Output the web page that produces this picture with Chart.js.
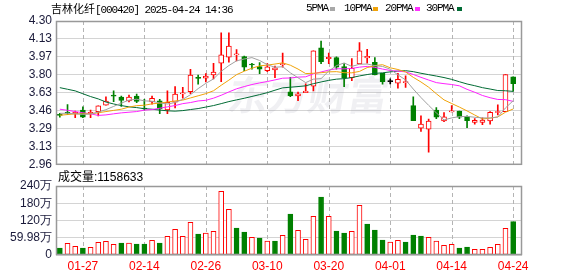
<!DOCTYPE html>
<html>
<head>
<meta charset="utf-8">
<script src="https://cdn.jsdelivr.net/npm/chart.js@4.4.0/dist/chart.umd.min.js"></script>
<style>
html, body { margin:0; padding:0; background:#fff; }
#wrap { position:relative; width:578px; height:276px; overflow:hidden; }
canvas { position:absolute; left:0; }
.t { position:absolute; white-space:nowrap; color:#000; font-size:11px; line-height:12px; }
.mono { font-family:"Liberation Mono", monospace; letter-spacing:-1.1px; }
.cjk { font-family:"Noto Sans CJK SC", sans-serif; }
.sq { position:absolute; width:5px; height:4px; }
</style>
</head>
<body>
<div id="wrap">
  <canvas id="kline" width="578" height="176" style="top:0"></canvas>
  <canvas id="vol" width="578" height="104" style="top:172px"></canvas>
  <div class="t" style="left:51px;top:2px"><span class="cjk">吉林化纤</span><span class="mono">[000420] 2025-04-24 14:36</span></div>
  <div class="t mono" style="left:306px;top:2px">5PMA</div><div class="sq" style="left:330px;top:7px;background:#a8a8a8"></div>
  <div class="t mono" style="left:344px;top:2px">10PMA</div><div class="sq" style="left:373px;top:7px;background:#f0a30a"></div>
  <div class="t mono" style="left:385px;top:2px">20PMA</div><div class="sq" style="left:415px;top:7px;background:#ff33ff"></div>
  <div class="t mono" style="left:426px;top:2px">30PMA</div><div class="sq" style="left:457px;top:7px;background:#006b34"></div>
  <div class="t" style="left:58px;top:171px;font-size:12px;font-family:'Liberation Sans','Noto Sans CJK SC',sans-serif">成交量:1158633</div>
</div>
<script>
// trading days shown, 2025-01-22 .. 2025-04-24
const dates = ["01-22","01-23","01-24","01-27","02-05","02-06","02-07","02-10","02-11","02-12",
  "02-13","02-14","02-17","02-18","02-19","02-20","02-21","02-24","02-25","02-26",
  "02-27","02-28","03-03","03-04","03-05","03-06","03-07","03-10","03-11","03-12",
  "03-13","03-14","03-17","03-18","03-19","03-20","03-21","03-24","03-25","03-26",
  "03-27","03-28","03-31","04-01","04-02","04-03","04-07","04-08","04-09","04-10",
  "04-11","04-14","04-15","04-16","04-17","04-18","04-21","04-22","04-23","04-24"];

const opens = [3.43,3.445,3.435,3.47,3.435,3.456,3.515,3.605,3.59,3.555,3.60,3.485,3.545,3.555,3.472,3.543,3.62,3.642,3.77,3.767,
  3.797,3.906,3.962,3.984,3.968,3.893,3.875,3.838,3.844,3.893,3.64,3.602,3.633,3.692,4.049,3.949,3.959,3.875,3.772,3.90,
  3.956,3.916,3.813,3.735,3.72,3.726,3.512,3.301,3.292,3.469,3.369,3.453,3.46,3.41,3.355,3.355,3.369,3.447,3.456,3.78];
const closes = [3.42,3.44,3.45,3.405,3.45,3.51,3.553,3.60,3.56,3.59,3.55,3.48,3.58,3.48,3.543,3.618,3.63,3.795,3.765,3.786,
  3.825,3.984,4.067,3.986,3.869,3.89,3.85,3.872,3.863,3.895,3.605,3.621,3.646,4.021,3.921,3.962,3.869,3.772,3.86,4.021,
  3.971,3.797,3.735,3.735,3.757,3.735,3.372,3.339,3.367,3.404,3.406,3.463,3.404,3.372,3.375,3.377,3.45,3.456,3.80,3.717];
const highs = [3.44,3.52,3.46,3.50,3.47,3.51,3.593,3.649,3.60,3.61,3.618,3.57,3.60,3.571,3.649,3.689,3.683,3.85,3.797,3.81,
  3.906,4.19,4.19,4.033,3.974,3.906,3.912,3.903,3.881,4.002,3.776,3.637,3.714,4.021,4.114,4.0,3.965,3.903,3.949,4.098,
  4.036,3.959,3.813,3.76,3.813,3.788,3.593,3.416,3.385,3.493,3.447,3.512,3.46,3.416,3.391,3.397,3.456,3.518,3.80,3.78];
const lows = [3.405,3.43,3.40,3.40,3.40,3.416,3.515,3.549,3.503,3.546,3.54,3.47,3.525,3.437,3.437,3.49,3.58,3.623,3.711,3.732,
  3.76,3.735,3.916,3.928,3.838,3.85,3.81,3.828,3.772,3.869,3.596,3.558,3.633,3.649,3.903,3.903,3.85,3.689,3.745,3.90,
  3.906,3.797,3.711,3.714,3.674,3.68,3.372,3.27,3.078,3.391,3.363,3.453,3.391,3.307,3.339,3.333,3.339,3.425,3.456,3.645];
const prevClose = 3.44; // close of the day before the first candle

// moving averages as drawn
const ma5 = [3.44,3.44,3.435,3.43,3.433,3.451,3.474,3.504,3.535,3.563,3.571,3.556,3.552,3.536,3.527,3.540,3.570,3.613,3.670,3.719,
  3.760,3.831,3.885,3.929,3.946,3.959,3.932,3.893,3.869,3.874,3.817,3.771,3.726,3.758,3.763,3.834,3.884,3.909,3.877,3.897,
  3.899,3.884,3.877,3.851,3.798,3.751,3.666,3.587,3.514,3.444,3.378,3.397,3.409,3.411,3.403,3.397,3.396,3.405,3.490,3.557];
const ma10 = [3.422,3.428,3.435,3.435,3.435,3.445,3.456,3.467,3.478,3.498,3.511,3.515,3.528,3.535,3.545,3.555,3.563,3.583,3.603,3.623,
  3.650,3.701,3.749,3.800,3.832,3.860,3.882,3.889,3.899,3.910,3.888,3.852,3.810,3.813,3.818,3.826,3.828,3.818,3.817,3.830,
  3.866,3.884,3.893,3.864,3.848,3.825,3.775,3.732,3.683,3.622,3.565,3.531,3.498,3.462,3.424,3.387,3.395,3.406,3.450,3.480];
const ma20 = [3.478,3.468,3.456,3.445,3.435,3.42,3.425,3.435,3.444,3.45,3.456,3.469,3.475,3.487,3.50,3.512,3.53,3.54,3.555,3.561,
  3.581,3.608,3.639,3.668,3.689,3.708,3.723,3.736,3.751,3.767,3.769,3.777,3.780,3.807,3.825,3.843,3.855,3.854,3.858,3.870,
  3.877,3.868,3.852,3.839,3.833,3.826,3.802,3.775,3.750,3.726,3.716,3.708,3.696,3.663,3.636,3.606,3.585,3.569,3.567,3.551];
const ma30 = [3.679,3.664,3.649,3.622,3.596,3.574,3.545,3.527,3.512,3.50,3.493,3.483,3.478,3.470,3.463,3.460,3.465,3.475,3.484,3.498,
  3.512,3.530,3.549,3.565,3.580,3.597,3.614,3.632,3.655,3.677,3.683,3.689,3.696,3.716,3.732,3.747,3.758,3.763,3.773,3.788,
  3.801,3.812,3.817,3.826,3.833,3.837,3.828,3.813,3.800,3.787,3.773,3.756,3.734,3.713,3.697,3.679,3.666,3.652,3.650,3.644];

// volume in 万手
const volumes = [24.3,40.6,30.1,24.3,26.7,44.1,47.5,37.1,41.7,41.7,38.3,38.3,51,41.7,64.9,89.3,64.9,113.6,73,76.5,
  82.3,221.5,158.9,93.9,80,61.5,59.1,48.7,48.7,68.4,142.6,85.8,54.6,134.6,201.7,134.6,83.5,76.5,82.3,172.8,
  107.8,87,52.2,45.2,51,45.2,69.6,66.1,61.5,48.7,33.6,37.1,24.3,27.8,19.7,19.7,26.7,37.1,92.7,115.86];

const priceTicks = [2.96,3.1275,3.295,3.4625,3.63,3.7975,3.965,4.1325,4.30];
const priceLabels = ["2.96","3.13","3.29","3.46","3.63","3.80","3.97","4.13","4.30"];
const volTicks = [0,59.98,120,180,240];
const volLabels = ["0","59.98万","120万","180万","240万"];
const labelStep = 8, firstLabel = 3;

const RED = "#ff0000", GREEN = "#008000";
const tickIdx = dates.map((d,i)=>i).filter(i => (i - firstLabel) % labelStep === 0);
const candleCol = opens.map((o,i) => closes[i] > o ? RED : closes[i] < o ? GREEN : "#000");
const volUp = closes.map((c,i) => c >= (i ? closes[i-1] : prevClose));

const axisFont = { family:"Liberation Sans", size:12 };

// plot frame plus dashed date lines at the x scale's ticks
const frame = {
  id:"frame",
  beforeDatasetsDraw(chart){
    const a = chart.chartArea, ctx = chart.ctx, sx = chart.scales.x;
    ctx.save();
    ctx.strokeStyle = "#b4b4b4"; ctx.lineWidth = 1; ctx.setLineDash([4,3]);
    for (const t of sx.ticks) {
      const px = Math.round(sx.getPixelForValue(t.value)) + 0.5;
      ctx.beginPath(); ctx.moveTo(px, a.top); ctx.lineTo(px, a.bottom); ctx.stroke();
    }
    ctx.restore();
  },
  afterDraw(chart){
    const a = chart.chartArea, ctx = chart.ctx;
    ctx.save();
    ctx.strokeStyle = "#999"; ctx.lineWidth = 1.5;
    ctx.strokeRect(a.left+0.5, a.top+0.5, a.right-a.left-1, a.bottom-a.top-1);
    ctx.restore();
  }
};
const watermark = {
  id:"watermark",
  beforeDatasetsDraw(chart){
    const ctx = chart.ctx;
    ctx.save();
    ctx.translate(226, 110);
    ctx.transform(1,0,-0.18,1,0,0);
    ctx.font = 'bold 40px "Noto Sans CJK SC"';
    ctx.fillStyle = "rgba(140,140,160,0.13)";
    ctx.fillText("东方财富", 0, 0);
    ctx.restore();
  }
};

function xScale(showLabels, h){
  return {
    type:"linear", min:-0.5, max:60.15, offset:false,
    afterBuildTicks: s => { s.ticks = tickIdx.map(v => ({ value:v })); },
    afterFit: s => { s.height = h; },
    ticks:{ display:showLabels, color:RED, font:axisFont, padding:4, maxRotation:0, autoSkip:false,
      callback: v => dates[v] },
    grid:{ display:false, drawTicks:false },
    border:{ display:false }
  };
}
function yScale(min, max, vals, labels){
  return {
    min, max,
    afterBuildTicks: s => { s.ticks = vals.map(v => ({ value:v })); },
    afterFit: s => { s.width = 56; },
    ticks:{ color:"#1a1a3a", font:axisFont, padding:4, autoSkip:false, callback:(v,i) => labels[i] },
    grid:{ color:"#d4d4d4", drawTicks:false },
    border:{ display:false }
  };
}

new Chart(document.getElementById("kline"), {
  type:"bar",
  data:{ datasets:[
    { type:"line", data: ma5.map((v,i)=>({x:i,y:v})), borderColor:"#a0a0a0", borderWidth:1, pointRadius:0, order:0 },
    { type:"line", data: ma10.map((v,i)=>({x:i,y:v})), borderColor:"#f0a30a", borderWidth:1, pointRadius:0, order:0 },
    { type:"line", data: ma20.map((v,i)=>({x:i,y:v})), borderColor:"#ff22ff", borderWidth:1, pointRadius:0, order:0 },
    { type:"line", data: ma30.map((v,i)=>({x:i,y:v})), borderColor:"#006b34", borderWidth:1, pointRadius:0, order:0 },
    { type:"bar", data: opens.map((o,i)=>({x:i,y:[opens[i],closes[i]]})),
      backgroundColor: candleCol.map(c => c === RED ? "#fff" : c), borderColor: candleCol,
      borderWidth:1, borderSkipped:false, barThickness:5, minBarLength:1, grouped:false, order:1 },
    { type:"bar", data: lows.map((l,i)=>({x:i,y:[lows[i],highs[i]]})),
      backgroundColor: candleCol, barThickness:1, grouped:false, order:2 }
  ]},
  options:{
    responsive:false, animation:false, devicePixelRatio:1,
    layout:{ padding:{ left:0, right:56, top:21, bottom:11 } },
    plugins:{ legend:{ display:false }, tooltip:{ enabled:false } },
    scales:{ x: xScale(false, 0), y: yScale(2.96, 4.30, priceTicks, priceLabels) }
  },
  plugins:[watermark, frame]
});

new Chart(document.getElementById("vol"), {
  type:"bar",
  data:{ datasets:[
    { data: volumes.map((v,i)=>({x:i,y:v})),
      backgroundColor: volUp.map(u => u ? "#fff" : GREEN), borderColor: volUp.map(u => u ? RED : GREEN),
      borderWidth:1, borderSkipped:false, barThickness:5, grouped:false }
  ]},
  options:{
    responsive:false, animation:false, devicePixelRatio:1,
    layout:{ padding:{ left:0, right:56, top:14, bottom:0 } },
    plugins:{ legend:{ display:false }, tooltip:{ enabled:false } },
    scales:{ x: xScale(true, 21), y: yScale(0, 240, volTicks, volLabels) }
  },
  plugins:[frame]
});
</script>
</body>
</html>
